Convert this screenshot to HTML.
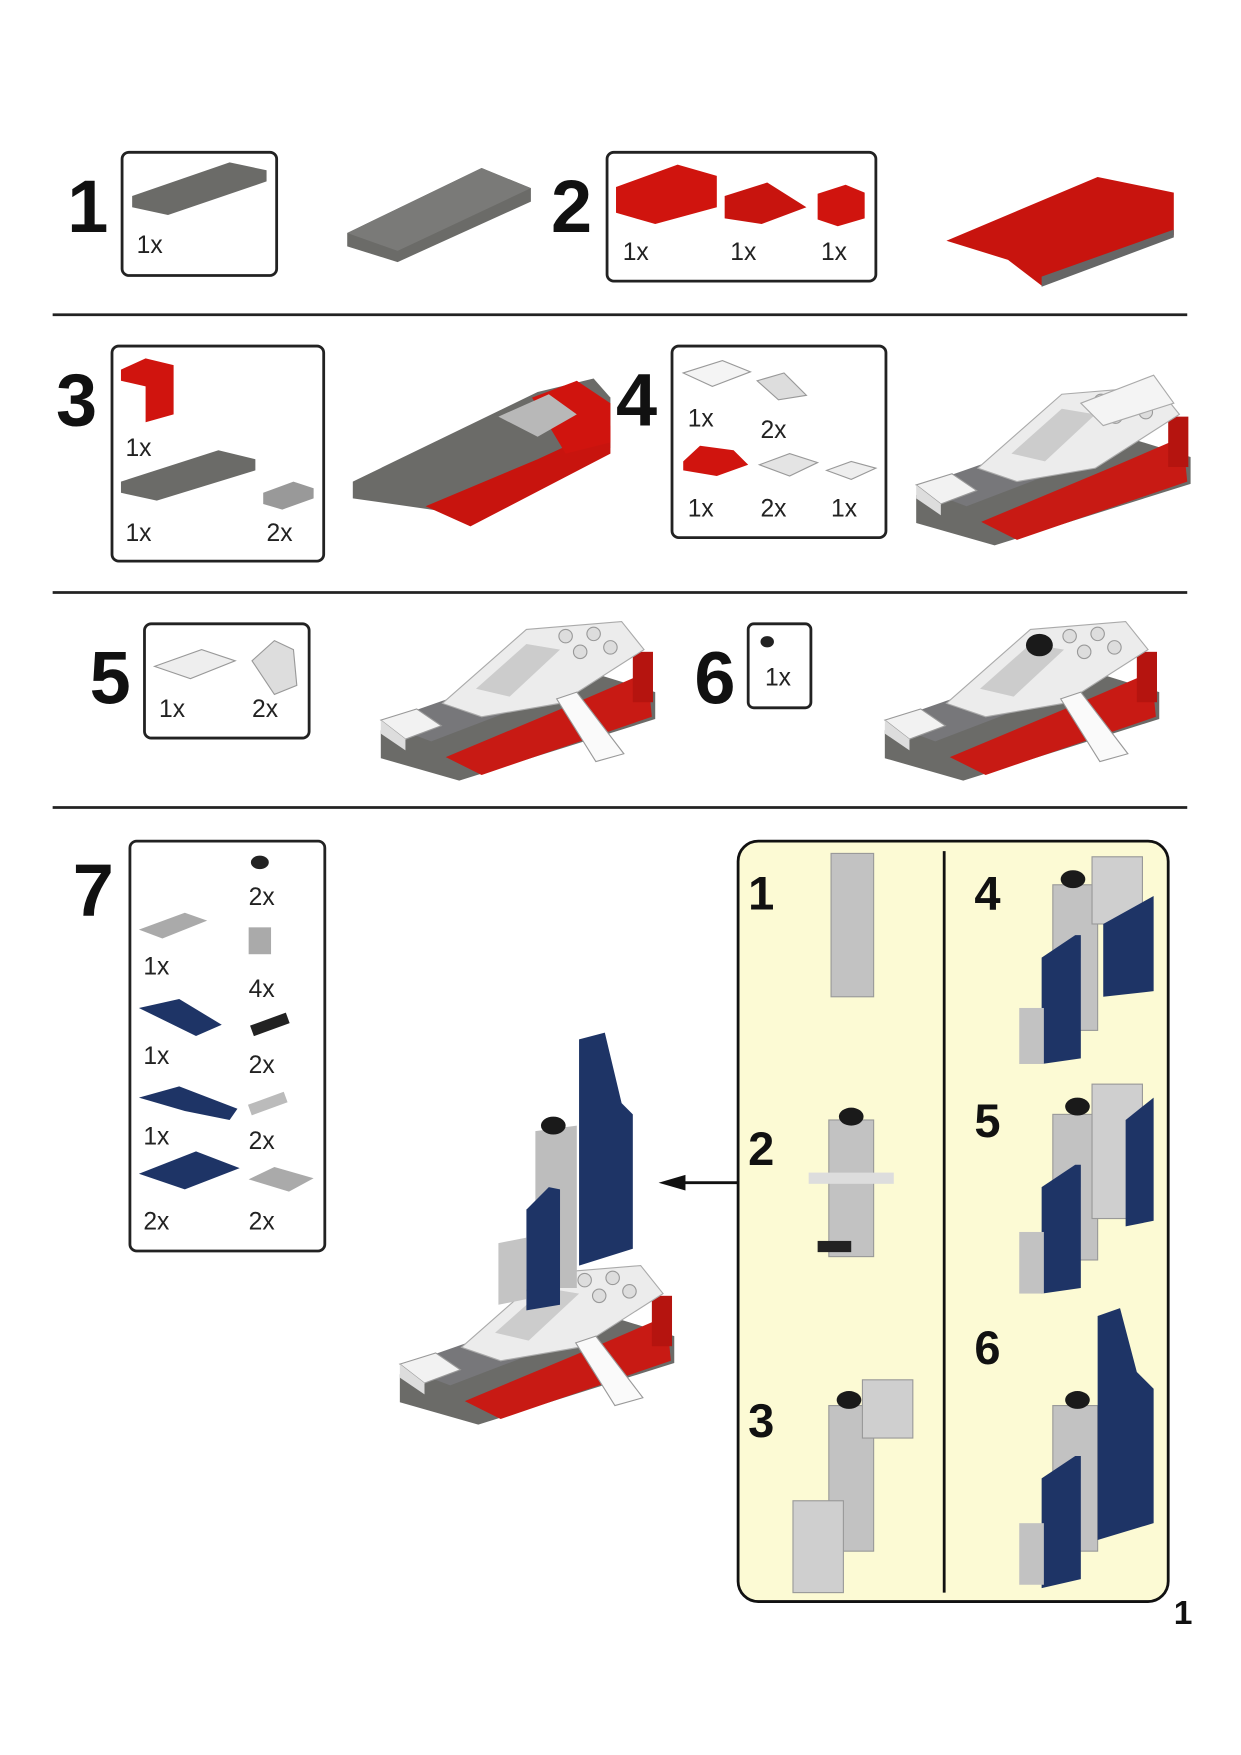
<!DOCTYPE html>
<html><head><meta charset="utf-8"><style>
html,body{margin:0;padding:0;background:#fff;}
svg{display:block}
text{font-family:"Liberation Sans",Arial,sans-serif;}
.n{font-weight:bold;font-size:66px;fill:#111}
.pn{font-weight:bold;font-size:42px;fill:#111}
.q{font-size:22px;fill:#222}
.box{fill:#fff;stroke:#222;stroke-width:2.5}
</style></head><body>
<svg width="1241" height="1755" viewBox="0 0 1108 1567" preserveAspectRatio="none">
<defs>
<g id="ship">
  <polygon points="340,652 520,598 585,618 585,642 410,697 340,677" fill="#6b6b68"/>
  <polygon points="398,676 520,625 578,600 582,640 430,692" fill="#c81a14"/>
  <rect x="565" y="582" width="18" height="45" fill="#b5140f"/>
  <polygon points="340,645 460,603 500,618 385,662" fill="#77777a"/>
  <polygon points="340,643 372,633 394,648 362,660" fill="#f2f2f2" stroke="#999" stroke-width="1"/>
  <polygon points="340,643 362,660 362,670 340,655" fill="#ddd"/>
  <polygon points="395,628 470,562 555,555 575,580 500,628 430,640" fill="#ececec" stroke="#aaa" stroke-width="1"/>
  <polygon points="425,615 470,575 500,580 455,622" fill="#ccc"/>
  <circle cx="505" cy="568" r="6" fill="#ddd" stroke="#999"/><circle cx="530" cy="566" r="6" fill="#ddd" stroke="#999"/>
  <circle cx="545" cy="578" r="6" fill="#ddd" stroke="#999"/><circle cx="518" cy="582" r="6" fill="#ddd" stroke="#999"/>
</g>
<g id="fin"><polygon points="497,624 515,618 557,673 532,680" fill="#fafafa" stroke="#999" stroke-width="1"/></g>
</defs>

<!-- separators -->
<line x1="47" y1="281" x2="1060" y2="281" stroke="#222" stroke-width="2.5"/>
<line x1="47" y1="529" x2="1060" y2="529" stroke="#222" stroke-width="2.5"/>
<line x1="47" y1="721" x2="1060" y2="721" stroke="#222" stroke-width="2.5"/>

<!-- Step 1 -->
<text class="n" x="60" y="207">1</text>
<rect class="box" x="109" y="136" width="138" height="110" rx="6"/>
<polygon points="118,175 205,145 238,152 238,162 150,192 118,185" fill="#6b6b68"/>
<text class="q" x="122" y="226">1x</text>
<polygon points="310,208 430,150 474,168 474,180 355,234 310,220" fill="#6b6b68"/>
<polygon points="310,208 430,150 474,168 355,224" fill="#7a7a78"/>

<!-- Step 2 -->
<text class="n" x="492" y="207">2</text>
<rect class="box" x="542" y="136" width="240" height="115" rx="6"/>
<polygon points="550,167 605,147 640,157 640,185 585,200 550,190" fill="#d0140e"/>
<polygon points="647,175 685,163 720,185 680,200 647,195" fill="#c8140e"/>
<polygon points="730,173 755,165 772,172 772,195 748,202 730,196" fill="#d0140e"/>
<text class="q" x="556" y="232">1x</text><text class="q" x="652" y="232">1x</text><text class="q" x="733" y="232">1x</text>
<polygon points="845,215 980,158 1048,172 1048,210 930,255 900,232" fill="#c8140e"/>
<polygon points="930,247 1048,205 1048,212 930,256" fill="#666"/>

<!-- Step 3 -->
<text class="n" x="50" y="380">3</text>
<rect class="box" x="100" y="309" width="189" height="192" rx="6"/>
<polygon points="108,330 130,320 155,326 155,370 130,377 130,345 108,340" fill="#d0140e"/>
<text class="q" x="112" y="407">1x</text>
<polygon points="108,430 195,402 228,410 228,420 140,447 108,440" fill="#6b6b68"/>
<polygon points="235,440 262,430 280,436 280,445 252,455 235,450" fill="#999"/>
<text class="q" x="112" y="483">1x</text><text class="q" x="238" y="483">2x</text>
<polygon points="315,430 480,350 530,338 545,355 545,400 420,460 315,445" fill="#6b6b68"/>
<polygon points="380,452 480,410 545,380 545,405 420,470" fill="#c8140e"/>
<polygon points="475,355 515,340 545,360 545,395 505,405" fill="#d0140e"/>
<polygon points="445,372 490,352 515,370 480,390" fill="#b8b8b8"/>

<!-- Step 4 -->
<text class="n" x="550" y="380">4</text>
<rect class="box" x="600" y="309" width="191" height="171" rx="6"/>
<polygon points="610,333 645,322 670,332 636,345" fill="#f4f4f4" stroke="#999"/>
<polygon points="676,340 700,333 720,353 695,357" fill="#ddd" stroke="#999"/>
<text class="q" x="614" y="381">1x</text><text class="q" x="679" y="391">2x</text>
<polygon points="610,412 625,398 655,402 668,415 640,425 610,420" fill="#d0140e"/>
<polygon points="678,415 705,405 730,413 705,425" fill="#e4e4e4" stroke="#999"/>
<polygon points="738,420 760,412 782,418 760,428" fill="#eee" stroke="#999"/>
<text class="q" x="614" y="461">1x</text><text class="q" x="679" y="461">2x</text><text class="q" x="742" y="461">1x</text>
<use href="#ship" transform="translate(478,-210)"/>
<polygon points="965,360 1030,335 1048,360 985,380" fill="#f4f4f4" stroke="#aaa"/>

<!-- Step 5 -->
<text class="n" x="80" y="628">5</text>
<rect class="box" x="129" y="557" width="147" height="102" rx="6"/>
<polygon points="138,595 180,580 210,590 170,606" fill="#eee" stroke="#999"/>
<polygon points="225,590 245,572 262,580 265,612 245,620" fill="#ddd" stroke="#999"/>
<text class="q" x="142" y="640">1x</text><text class="q" x="225" y="640">2x</text>
<use href="#ship"/><use href="#fin"/>

<!-- Step 6 -->
<text class="n" x="620" y="628">6</text>
<rect class="box" x="668" y="557" width="56" height="75" rx="5"/>
<ellipse cx="685" cy="573" rx="6" ry="5" fill="#222"/>
<text class="q" x="683" y="612">1x</text>
<use href="#ship" transform="translate(450,0)"/><use href="#fin" transform="translate(450,0)"/>
<ellipse cx="928" cy="576" rx="12" ry="10" fill="#1a1a1a"/>

<!-- Step 7 -->
<text class="n" x="65" y="818">7</text>
<rect class="box" x="116" y="751" width="174" height="366" rx="6"/>
<ellipse cx="232" cy="770" rx="8" ry="6" fill="#222"/><text class="q" x="222" y="808">2x</text>
<polygon points="124,830 165,815 185,822 145,838" fill="#aaa"/><text class="q" x="128" y="870">1x</text>
<rect x="222" y="828" width="20" height="24" fill="#aaa"/><text class="q" x="222" y="890">4x</text>
<polygon points="124,900 160,892 198,915 175,925" fill="#1e3466"/><text class="q" x="128" y="950">1x</text>
<rect x="224" y="910" width="34" height="10" fill="#222" transform="rotate(-20 240 915)"/><text class="q" x="222" y="958">2x</text>
<polygon points="124,980 160,970 212,990 205,1000 165,992" fill="#1e3466"/><text class="q" x="128" y="1022">1x</text>
<rect x="222" y="980" width="34" height="10" fill="#bbb" transform="rotate(-20 240 985)"/><text class="q" x="222" y="1026">2x</text>
<polygon points="124,1048 175,1028 214,1043 165,1062" fill="#1e3466"/><text class="q" x="128" y="1098">2x</text>
<polygon points="222,1053 245,1042 280,1052 258,1064" fill="#aaa"/><text class="q" x="222" y="1098">2x</text>

<use href="#ship" transform="translate(17,575)"/><use href="#fin" transform="translate(17,575)"/>
<polygon points="478,1010 515,1005 515,1150 478,1150" fill="#bdbdbd"/>
<ellipse cx="494" cy="1005" rx="11" ry="8" fill="#1a1a1a"/>
<polygon points="517,928 540,922 555,985 565,995 565,1115 517,1130" fill="#1e3466"/>
<polygon points="470,1080 490,1060 500,1062 500,1165 470,1170" fill="#1e3466"/>
<polygon points="445,1110 470,1105 470,1160 445,1165" fill="#c4c4c4"/>

<!-- arrow -->
<line x1="659" y1="1056" x2="605" y2="1056" stroke="#111" stroke-width="2.5"/>
<polygon points="588,1056 612,1049 612,1063" fill="#111"/>

<!-- yellow panel -->
<rect x="659" y="751" width="384" height="679" rx="18" fill="#fcfad4" stroke="#111" stroke-width="2.5"/>
<line x1="843" y1="760" x2="843" y2="1422" stroke="#111" stroke-width="2.5"/>
<text class="pn" x="668" y="812">1</text>
<rect x="742" y="762" width="38" height="128" fill="#c2c2c2" stroke="#999"/>
<text class="pn" x="668" y="1040">2</text>
<rect x="740" y="1000" width="40" height="122" fill="#c2c2c2" stroke="#999"/>
<ellipse cx="760" cy="997" rx="11" ry="8" fill="#1a1a1a"/>
<rect x="722" y="1047" width="76" height="10" fill="#ddd"/>
<rect x="730" y="1108" width="30" height="10" fill="#222"/>
<text class="pn" x="668" y="1283">3</text>
<rect x="740" y="1255" width="40" height="130" fill="#c2c2c2" stroke="#999"/>
<rect x="770" y="1232" width="45" height="52" fill="#cfcfcf" stroke="#999"/>
<rect x="708" y="1340" width="45" height="82" fill="#cfcfcf" stroke="#999"/>
<ellipse cx="758" cy="1250" rx="11" ry="8" fill="#1a1a1a"/>
<text class="pn" x="870" y="812">4</text>
<rect x="940" y="790" width="40" height="130" fill="#c2c2c2" stroke="#999"/>
<rect x="975" y="765" width="45" height="60" fill="#cfcfcf" stroke="#999"/>
<polygon points="985,825 1030,800 1030,885 985,890" fill="#1e3466"/>
<polygon points="930,855 960,835 965,835 965,945 930,950" fill="#1e3466"/>
<rect x="910" y="900" width="22" height="50" fill="#c2c2c2"/>
<ellipse cx="958" cy="785" rx="11" ry="8" fill="#1a1a1a"/>
<text class="pn" x="870" y="1015">5</text>
<rect x="940" y="995" width="40" height="130" fill="#c2c2c2" stroke="#999"/>
<rect x="975" y="968" width="45" height="120" fill="#cfcfcf" stroke="#999"/>
<polygon points="1005,1000 1030,980 1030,1090 1005,1095" fill="#1e3466"/>
<polygon points="930,1060 960,1040 965,1040 965,1150 930,1155" fill="#1e3466"/>
<rect x="910" y="1100" width="22" height="55" fill="#c2c2c2"/>
<ellipse cx="962" cy="988" rx="11" ry="8" fill="#1a1a1a"/>
<text class="pn" x="870" y="1218">6</text>
<rect x="940" y="1255" width="40" height="130" fill="#c2c2c2" stroke="#999"/>
<polygon points="980,1175 1000,1168 1015,1225 1030,1240 1030,1360 980,1375" fill="#1e3466"/>
<polygon points="930,1320 960,1300 965,1300 965,1410 930,1418" fill="#1e3466"/>
<rect x="910" y="1360" width="22" height="55" fill="#c2c2c2"/>
<ellipse cx="962" cy="1250" rx="11" ry="8" fill="#1a1a1a"/>

<text x="1048" y="1450" style="font-weight:bold;font-size:30px;fill:#111">1</text>
</svg>
</body></html>
